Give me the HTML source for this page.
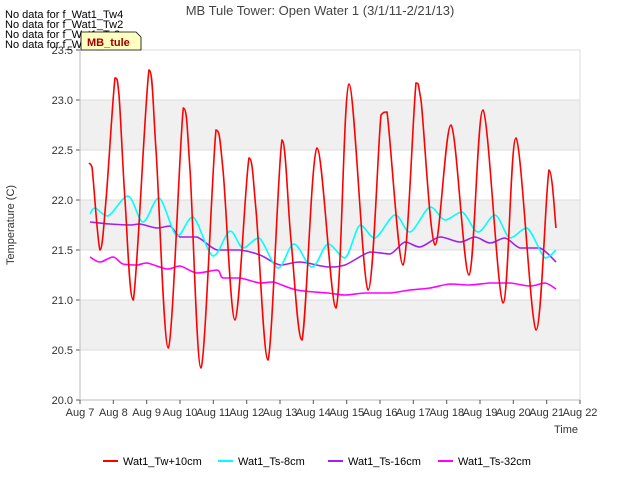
<!DOCTYPE html>
<html><head><meta charset="utf-8"><style>
body{margin:0;background:#fff;font-family:"Liberation Sans",sans-serif}
svg text{font-family:"Liberation Sans",sans-serif}
</style></head><body>
<svg id="c" width="640" height="480">
<rect width="640" height="480" fill="#fff"/>
<g id="bands"></g><g id="grid"></g><g id="series"></g><g id="axes"></g>
<text x="320" y="15" text-anchor="middle" font-size="13" fill="#444">MB Tule Tower: Open Water 1 (3/1/11-2/21/13)</text>
<text x="14" y="225" transform="rotate(-90 14 225)" text-anchor="middle" font-size="11" fill="#333">Temperature (C)</text>
<text x="578" y="433" text-anchor="end" font-size="11" fill="#333">Time</text>
<g font-size="11" fill="#000">
<text x="5" y="18">No data for f_Wat1_Tw4</text>
<text x="5" y="28">No data for f_Wat1_Tw2</text>
<text x="5" y="38">No data for f_Wat1_Ts2</text>
<text x="5" y="48">No data for f_Wat1_Ts4</text>
</g>
<g><path d="M81,32 H136 L141,37 V50 H81 Z" fill="#ffffc0" stroke="#000" stroke-width="0.8"/>
<text x="87" y="46" font-size="11" font-weight="bold" fill="#a00000">MB_tule</text></g>
<g id="legend"></g>
</svg>
<script>
const xTicks=["Aug 7","Aug 8","Aug 9","Aug 10","Aug 11","Aug 12","Aug 13","Aug 14","Aug 15","Aug 16","Aug 17","Aug 18","Aug 19","Aug 20","Aug 21","Aug 22"];
const yTicks=[20.0,20.5,21.0,21.5,22.0,22.5,23.0,23.5];
const seriesNames=["Wat1_Tw+10cm","Wat1_Ts-8cm","Wat1_Ts-16cm","Wat1_Ts-32cm"];
const seriesColors=["#ff0000","#00ffff","#a020f0","#ff00ff"];
const twDays=[0.27,0.36,0.6,0.78,1.05,1.17,1.35,1.6,2.07,2.28,2.65,3.1,3.3,3.63,4.08,4.29,4.65,5.07,5.28,5.64,6.06,6.33,6.66,7.11,7.68,8.07,8.64,9.03,9.21,9.69,10.08,10.23,10.65,11.13,11.67,12.09,12.69,13.08,13.68,14.07,14.28];
const twVals=[22.37,22.33,21.5,22.0,23.22,23.05,22.0,21.0,23.3,22.5,20.52,22.92,22.3,20.32,22.7,22.3,20.8,22.42,21.9,20.4,22.6,21.6,20.6,22.52,20.92,23.16,21.1,22.85,22.88,21.35,23.17,23.0,21.55,22.75,21.25,22.9,20.97,22.62,20.7,22.3,21.72];
const s8Days=[0.3,0.45,0.84,1.44,1.89,2.37,2.91,3.39,3.99,4.5,4.89,5.37,5.94,6.42,6.96,7.44,7.95,8.4,8.85,9.45,9.9,10.5,10.95,11.46,11.94,12.45,12.9,13.41,13.95,14.28];
const s8Vals=[21.86,21.92,21.84,22.04,21.78,22.02,21.64,21.83,21.44,21.69,21.52,21.62,21.32,21.56,21.33,21.56,21.42,21.75,21.62,21.85,21.68,21.93,21.8,21.88,21.68,21.85,21.62,21.72,21.42,21.5];
const s16Days=[0.3,0.9,1.5,1.8,2.31,2.7,3.0,3.51,4.11,4.8,5.4,6.0,6.6,7.44,7.95,8.7,9.3,9.75,10.2,10.8,11.4,11.85,12.3,12.75,13.2,13.8,14.28];
const s16Vals=[21.78,21.76,21.75,21.76,21.72,21.74,21.63,21.63,21.5,21.5,21.45,21.35,21.38,21.33,21.35,21.48,21.46,21.58,21.53,21.63,21.58,21.63,21.57,21.62,21.52,21.52,21.38];
const s32Days=[0.3,0.6,0.99,1.29,1.71,2.01,2.61,3.0,3.51,4.11,4.29,4.8,5.4,5.79,6.51,7.44,7.95,8.55,9.3,9.9,10.5,11.1,11.7,12.3,12.9,13.5,13.95,14.28];
const s32Vals=[21.43,21.38,21.43,21.36,21.35,21.37,21.31,21.34,21.27,21.3,21.22,21.22,21.17,21.18,21.1,21.07,21.05,21.07,21.07,21.1,21.12,21.16,21.15,21.17,21.17,21.14,21.17,21.11];
const X0=80,X1=580,Y0=400,Y1=50;
const xs=d=>X0+d*(X1-X0)/15, ys=v=>Y0-(v-20)*(Y0-Y1)/3.5;
const NS="http://www.w3.org/2000/svg";
function mk(t,a,p){const e=document.createElementNS(NS,t);for(const k in a)e.setAttribute(k,a[k]);p.appendChild(e);return e;}
const bands=document.getElementById('bands'),grid=document.getElementById('grid'),axes=document.getElementById('axes');
for(let i=0;i<yTicks.length-1;i++){ if(i%2==1){
 const b=mk('rect',{x:X0,y:ys(yTicks[i+1]),width:X1-X0,height:ys(yTicks[i])-ys(yTicks[i+1]),fill:'#f0f0f0'},bands);
 
 }}
mk('rect',{x:X0,y:Y1,width:X1-X0,height:Y0-Y1,fill:'none',stroke:'#ddd'},grid);
yTicks.forEach(v=>{
 const l=mk('line',{x1:X0,x2:X1,y1:ys(v),y2:ys(v),stroke:'#dcdcdc'},grid);
 
 
 mk('line',{x1:X0-4,x2:X0,y1:ys(v),y2:ys(v),stroke:'#555'},axes);
 const t=mk('text',{x:X0-7,y:ys(v)+4,'text-anchor':'end','font-size':11,fill:'#333'},axes);t.textContent=v.toFixed(1);
 
 
});
mk('line',{x1:X0,x2:X0,y1:Y1,y2:Y0,stroke:'#bbb'},axes);
mk('line',{x1:X0,x2:X1,y1:Y0,y2:Y0,stroke:'#bbb'},axes);
xTicks.forEach((s,i)=>{
 mk('line',{x1:xs(i),x2:xs(i),y1:Y0,y2:Y0+4,stroke:'#555'},axes);
 const t=mk('text',{x:xs(i),y:Y0+16,'text-anchor':'middle','font-size':11,fill:'#333'},axes);t.textContent=s;
 
 
});
const clamp=(v,a,b)=>Math.max(Math.min(a,b),Math.min(Math.max(a,b),v));
function smooth(D,V){const P=D.map((d,i)=>[xs(d),ys(V[i])]);let p=`M${P[0][0]},${P[0][1]}`;
 for(let i=0;i<P.length-1;i++){const a=P[Math.max(0,i-1)],b=P[i],c=P[i+1],e=P[Math.min(P.length-1,i+2)];
  const c1=[b[0]+(c[0]-a[0])/6,clamp(b[1]+(c[1]-a[1])/6,b[1],c[1])],c2=[c[0]-(e[0]-b[0])/6,clamp(c[1]-(e[1]-b[1])/6,b[1],c[1])];
  p+=` C${c1[0]},${c1[1]} ${c2[0]},${c2[1]} ${c[0]},${c[1]}`;}return p;}
const ser=document.getElementById('series');
const all=[[twDays,twVals],[s8Days,s8Vals],[s16Days,s16Vals],[s32Days,s32Vals]];
for(let k=3;k>=0;k--){
 const p=mk('path',{d:smooth(all[k][0],all[k][1]),fill:'none',stroke:seriesColors[k],'stroke-width':1.6},ser);
 
 
}
const lg=document.getElementById('legend');
const lx=[103,218,328,438];
seriesNames.forEach((n,i)=>{
 const g=mk('g',{},lg);
 
 
 mk('line',{x1:lx[i],x2:lx[i]+15,y1:461,y2:461,stroke:seriesColors[i],'stroke-width':2},g);
 const t=mk('text',{x:lx[i]+20,y:465,'font-size':11,fill:'#000'},g);t.textContent=n;
});
</script>
</body></html>
